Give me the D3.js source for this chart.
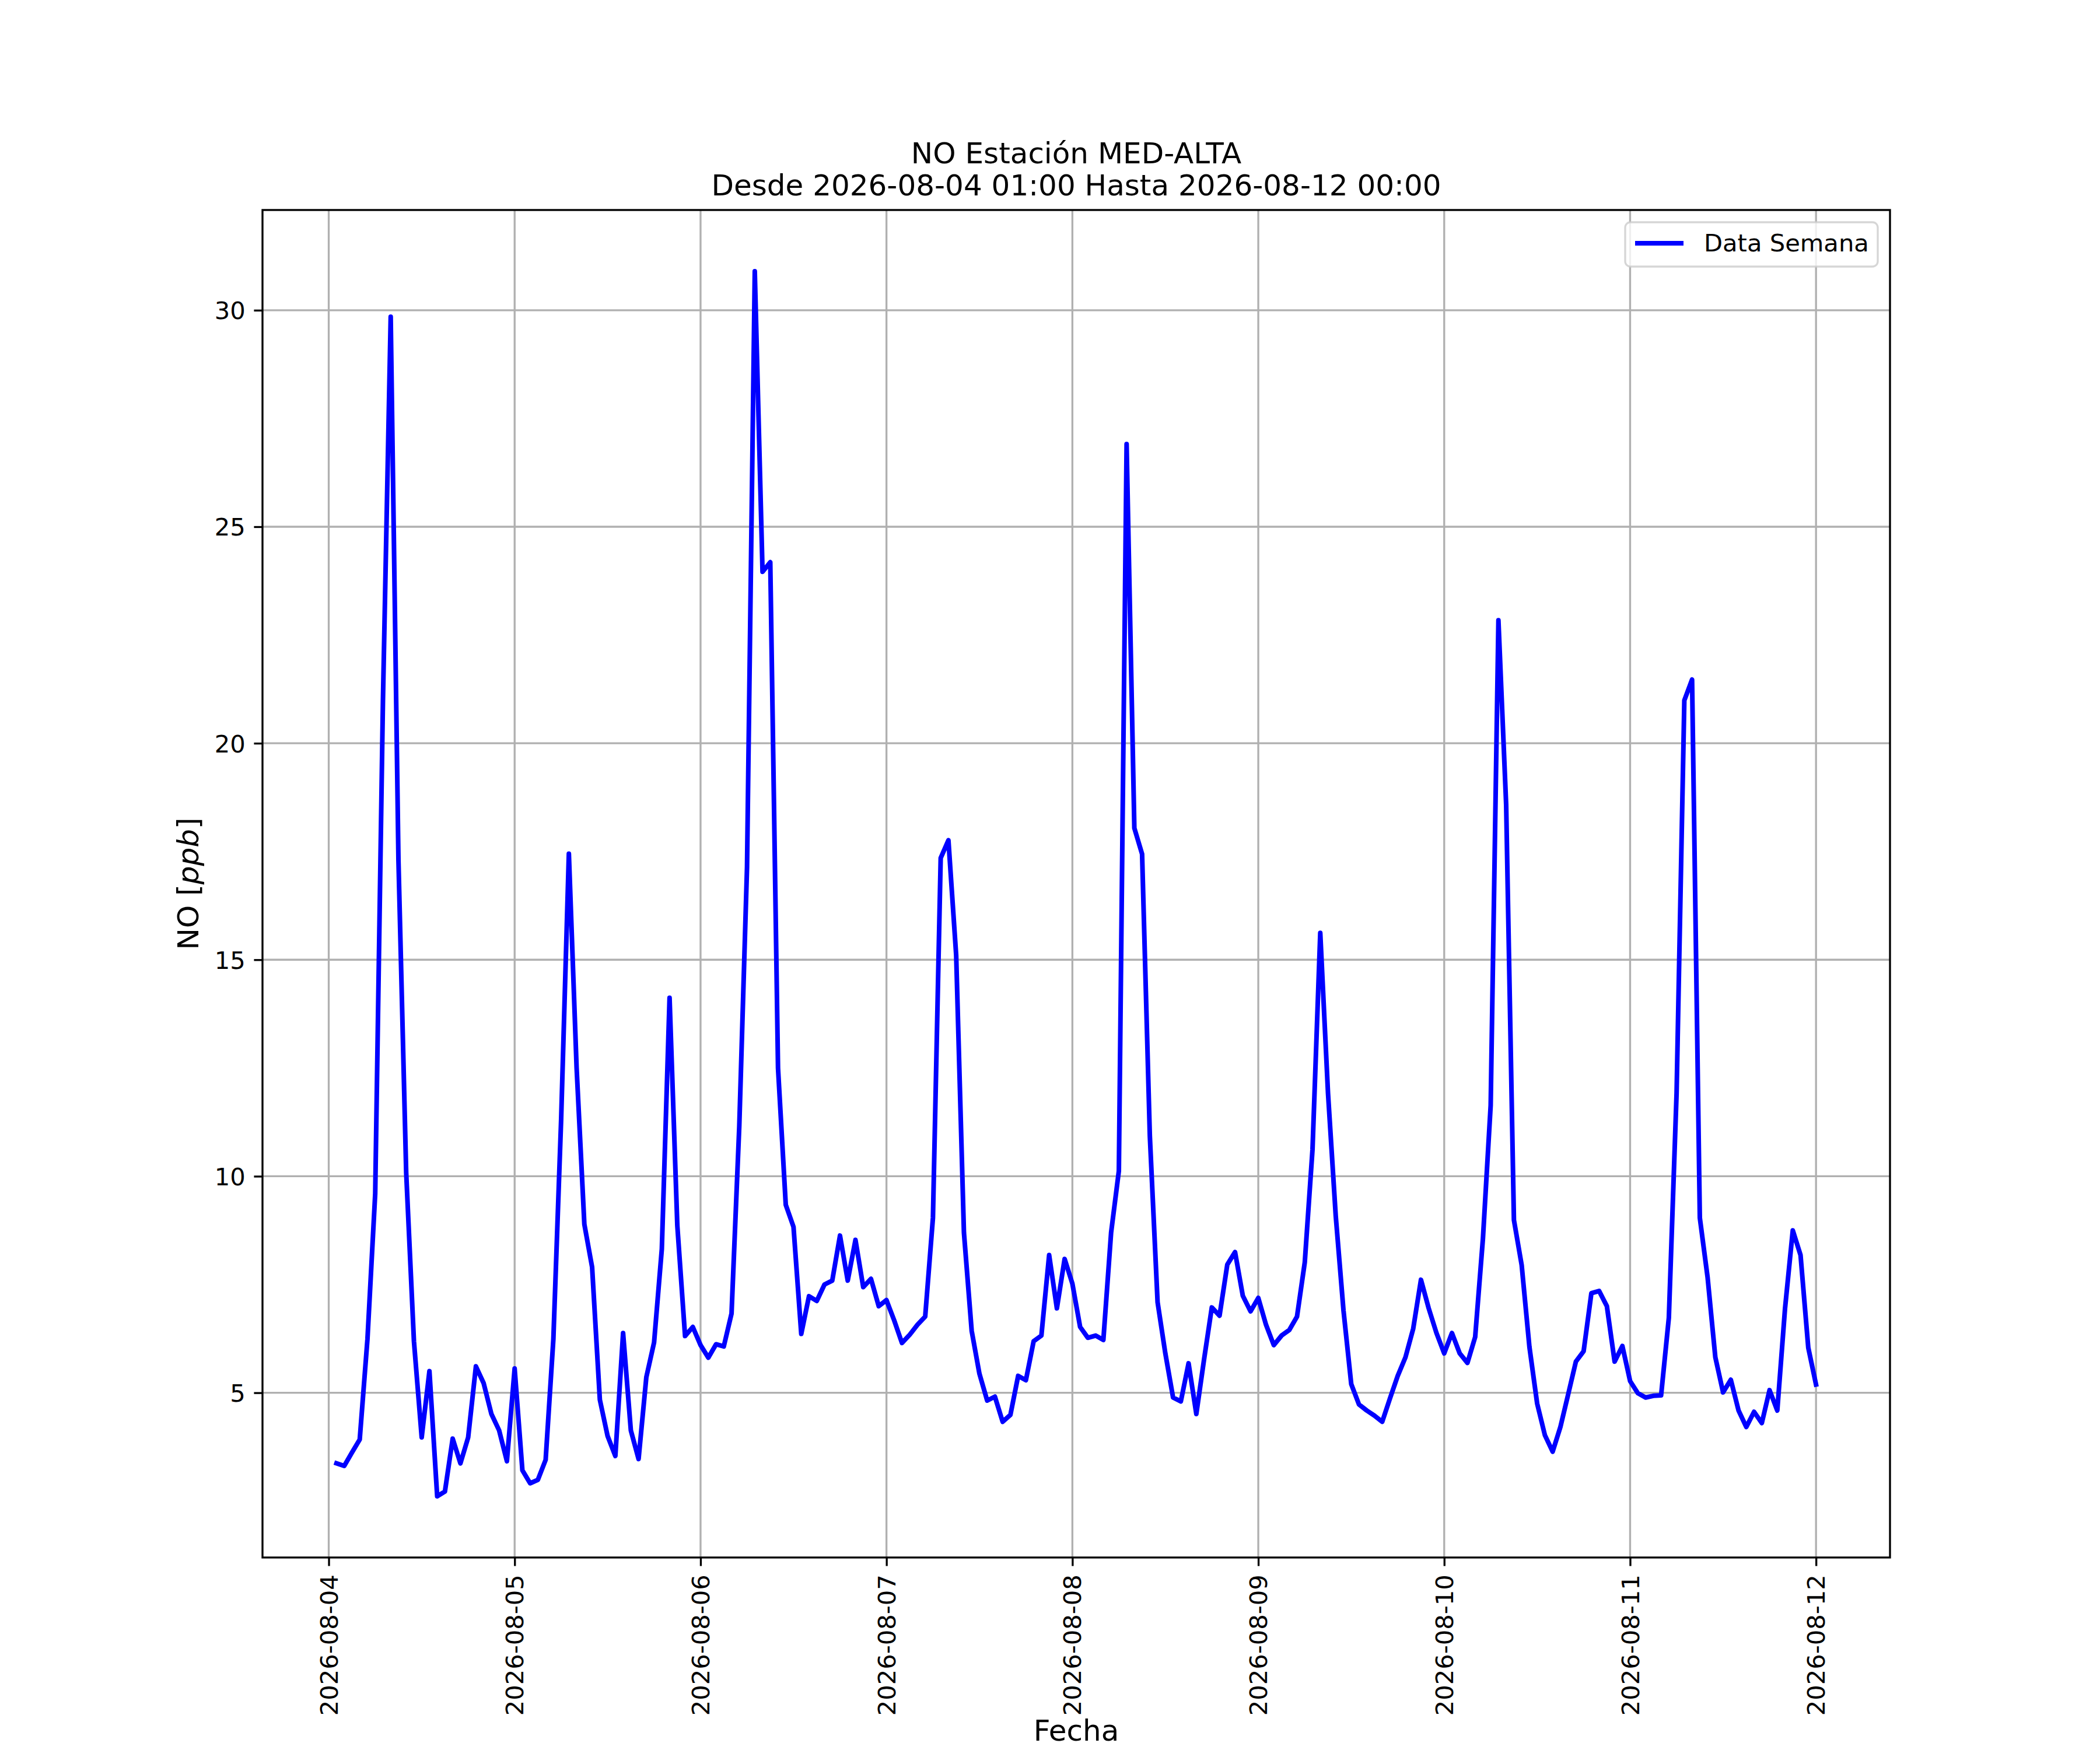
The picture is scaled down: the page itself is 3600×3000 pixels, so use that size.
<!DOCTYPE html>
<html>
<head>
<meta charset="utf-8">
<script src="https://cdn.jsdelivr.net/npm/d3@7"></script>
<style>
  body { margin: 0; background: #ffffff; }
  text { font-family: "DejaVu Sans", sans-serif; }
</style>
</head>
<body>
<div id="chart"></div>
<script>
// hourly NO readings, first value is 2026-08-04 01:00 (UTC)
var startHour = "2026-08-04T01:00:00Z";
var no0804 = [3.37, 3.31, 3.62, 3.92, 6.24, 9.60, 21.0, 29.85, 17.3, 10.08, 6.19, 3.97,
  5.5, 2.61, 2.72, 3.94, 3.37, 3.97, 5.61, 5.22, 4.51, 4.13, 3.42];
var no0805 = [5.56, 3.21, 2.91, 2.99, 3.45, 6.24, 11.3, 17.45, 12.5, 8.89, 7.9, 4.84,
  4.0, 3.54, 6.38, 4.13, 3.47, 5.36, 6.16, 8.32, 14.12, 8.86, 6.31, 6.52];
var no0806 = [6.1, 5.81, 6.12, 6.07, 6.83, 11.16, 17.14, 30.9, 23.96, 24.18, 12.5, 9.34,
  8.83, 6.36, 7.23, 7.12, 7.5, 7.59, 8.63, 7.59, 8.53, 7.44, 7.63, 7.0];
var no0807 = [7.14, 6.67, 6.15, 6.34, 6.57, 6.76, 9.04, 17.35, 17.76, 15.1, 8.70, 6.43,
  5.44, 4.82, 4.91, 4.33, 4.49, 5.39, 5.29, 6.19, 6.32, 8.18, 6.95, 8.09];
var no0808 = [7.52, 6.52, 6.27, 6.32, 6.22, 8.7, 10.12, 26.91, 18.04, 17.44, 10.93, 7.09,
  5.91, 4.89, 4.80, 5.68, 4.51, 5.77, 6.97, 6.78, 7.96, 8.25, 7.24, 6.88];
var no0809 = [7.19, 6.57, 6.10, 6.32, 6.45, 6.76, 8.01, 10.62, 15.62, 11.92, 9.08, 6.90,
  5.2, 4.73, 4.59, 4.47, 4.33, 4.87, 5.39, 5.82, 6.48, 7.61, 6.95, 6.38];
var no0810 = [5.91, 6.38, 5.91, 5.69, 6.29, 8.56, 11.64, 22.84, 18.57, 8.99, 7.95, 6.06,
  4.75, 4.02, 3.64, 4.21, 4.96, 5.72, 5.96, 7.3, 7.35, 7.0, 5.72, 6.08];
var no0811 = [5.27, 4.99, 4.89, 4.93, 4.94, 6.73, 11.92, 20.99, 21.47, 9.04, 7.67, 5.82,
  5.01, 5.30, 4.59, 4.21, 4.56, 4.30, 5.06, 4.59, 6.95, 8.75, 8.18, 6.04];
var no0812 = [5.19];

var xTicks = ["2026-08-04", "2026-08-05", "2026-08-06", "2026-08-07", "2026-08-08",
  "2026-08-09", "2026-08-10", "2026-08-11", "2026-08-12"];
var yTicks = [5, 10, 15, 20, 25, 30];

var titleLines = ["NO Estación MED-ALTA", "Desde 2026-08-04 01:00 Hasta 2026-08-12 00:00"];
var xLabel = "Fecha";
var seriesName = "Data Semana";

var width = 3600;
var height = 3000;
var margin = ({ top: 360, right: 360, bottom: 330, left: 450 });
var pt = 300 / 72;   // figure drawn at 300 dpi
var tickFont = 10 * pt;
var labelFont = 12 * pt;
var lineColor = "#0000ff";
var lineWidth = 8;

/* Format Data */
var values = [].concat(no0804, no0805, no0806, no0807, no0808, no0809, no0810, no0811, no0812);
var t0 = new Date(startHour);
var data = values.map(function (v, i) {
  return { date: d3.utcHour.offset(t0, i), value: v };
});

/* Scale (matplotlib style 5% margins) */
var xExt = d3.extent(data, d => d.date);
var xPad = (xExt[1] - xExt[0]) * 0.05;
var yExt = d3.extent(data, d => d.value);
var yPad = (yExt[1] - yExt[0]) * 0.05;

var xScale = d3.scaleUtc()
  .domain([new Date(+xExt[0] - xPad), new Date(+xExt[1] + xPad)])
  .range([margin.left, width - margin.right]);

var yScale = d3.scaleLinear()
  .domain([yExt[0] - yPad, yExt[1] + yPad])
  .range([height - margin.bottom, margin.top]);

var parseDay = d3.utcParse("%Y-%m-%d");
var xTickDates = xTicks.map(parseDay);

var svg = d3.select("#chart").append("svg")
  .attr("width", width)
  .attr("height", height)
  .attr("viewBox", [0, 0, width, height]);

svg.append("rect").attr("width", width).attr("height", height).attr("fill", "#ffffff");

/* Grid */
var grid = svg.append("g").attr("class", "grid-lines")
  .attr("stroke", "#b0b0b0").attr("stroke-width", 0.8 * pt);

grid.selectAll(".vx")
  .data(xTickDates)
  .join("line")
  .attr("class", "vx")
  .attr("x1", d => xScale(d)).attr("x2", d => xScale(d))
  .attr("y1", margin.top).attr("y2", height - margin.bottom);

grid.selectAll(".hy")
  .data(yTicks)
  .join("line")
  .attr("class", "hy")
  .attr("x1", margin.left).attr("x2", width - margin.right)
  .attr("y1", d => yScale(d)).attr("y2", d => yScale(d));

/* Line */
var line = d3.line()
  .x(d => xScale(d.date))
  .y(d => yScale(d.value));

svg.append("path")
  .datum(data)
  .attr("d", line)
  .attr("fill", "none")
  .attr("stroke", lineColor)
  .attr("stroke-width", lineWidth)
  .attr("stroke-linejoin", "round")
  .attr("stroke-linecap", "square");

/* Spines */
svg.append("rect")
  .attr("x", margin.left).attr("y", margin.top)
  .attr("width", width - margin.left - margin.right)
  .attr("height", height - margin.top - margin.bottom)
  .attr("fill", "none")
  .attr("stroke", "#000000")
  .attr("stroke-width", 0.8 * pt);

/* Axes */
var xAxis = d3.axisBottom(xScale)
  .tickValues(xTickDates)
  .tickFormat(d3.utcFormat("%Y-%m-%d"))
  .tickSize(3.5 * pt)
  .tickSizeOuter(0)
  .tickPadding(3.5 * pt);

var yAxis = d3.axisLeft(yScale)
  .tickValues(yTicks)
  .tickFormat(d3.format("d"))
  .tickSize(3.5 * pt)
  .tickSizeOuter(0)
  .tickPadding(3.5 * pt);

var gx = svg.append("g")
  .attr("transform", `translate(0,${height - margin.bottom})`)
  .call(xAxis);
gx.select(".domain").remove();
gx.selectAll(".tick line").attr("stroke", "#000000").attr("stroke-width", 0.8 * pt);
gx.selectAll(".tick text")
  .attr("font-family", "DejaVu Sans")
  .attr("font-size", tickFont)
  .attr("fill", "#000000")
  .attr("text-anchor", "end")
  .attr("x", 0)
  .attr("y", 0)
  .attr("dy", "0.35em")
  .attr("transform", `translate(0,${7 * pt}) rotate(-90)`);

var gy = svg.append("g")
  .attr("transform", `translate(${margin.left},0)`)
  .call(yAxis);
gy.select(".domain").remove();
gy.selectAll(".tick line").attr("stroke", "#000000").attr("stroke-width", 0.8 * pt);
gy.selectAll(".tick text")
  .attr("font-family", "DejaVu Sans")
  .attr("font-size", tickFont)
  .attr("fill", "#000000")
  .attr("dy", "0.36em");

/* Title */
var cx = (margin.left + width - margin.right) / 2;
svg.selectAll(".title")
  .data(titleLines)
  .join("text")
  .attr("class", "title")
  .attr("x", cx)
  .attr("y", (d, i) => 280 + i * 55)
  .attr("text-anchor", "middle")
  .attr("font-size", labelFont)
  .attr("fill", "#000000")
  .text(d => d);

// x label
svg.append("text")
  .attr("x", cx)
  .attr("y", 2984)
  .attr("text-anchor", "middle")
  .attr("font-size", labelFont)
  .attr("fill", "#000000")
  .text(xLabel);

// y label with italic units
var yl = svg.append("text")
  .attr("transform", `translate(340,${(margin.top + height - margin.bottom) / 2}) rotate(-90)`)
  .attr("text-anchor", "middle")
  .attr("font-size", labelFont)
  .attr("fill", "#000000");
yl.append("tspan").text("NO [");
yl.append("tspan").attr("font-style", "italic").text("ppb");
yl.append("tspan").text("]");

/* Legend */
var legX = 2786, legY = 381, legW = 433, legH = 76;
var leg = svg.append("g");
leg.append("rect")
  .attr("x", legX).attr("y", legY)
  .attr("width", legW).attr("height", legH)
  .attr("rx", 9).attr("ry", 9)
  .attr("fill", "#ffffff").attr("fill-opacity", 0.8)
  .attr("stroke", "#cccccc").attr("stroke-opacity", 0.8)
  .attr("stroke-width", 0.8 * pt);
leg.append("line")
  .attr("x1", legX + 17).attr("x2", legX + 17 + 83)
  .attr("y1", legY + 36).attr("y2", legY + 36)
  .attr("stroke", lineColor).attr("stroke-width", lineWidth)
  .attr("stroke-linecap", "butt");
leg.append("text")
  .attr("x", legX + 135)
  .attr("y", legY + 50)
  .attr("font-size", tickFont)
  .attr("fill", "#000000")
  .text(seriesName);
</script>
</body>
</html>
